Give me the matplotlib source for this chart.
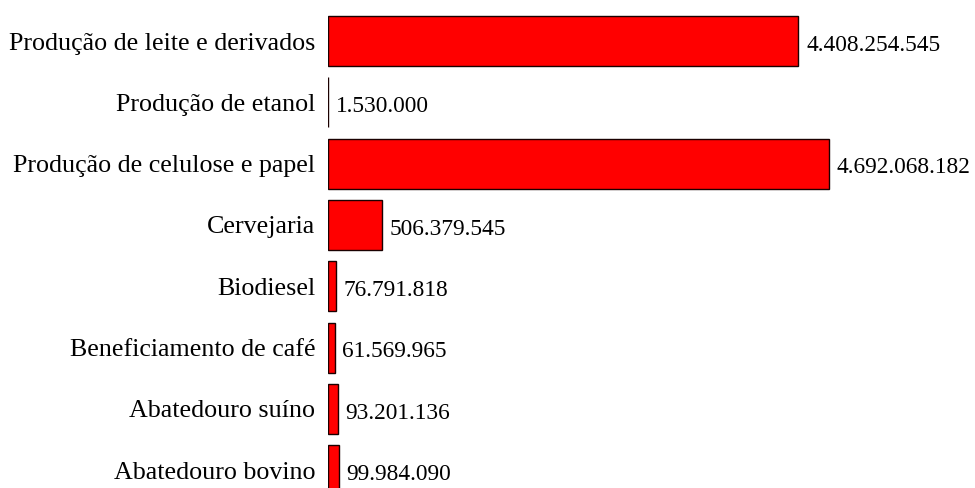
import matplotlib
matplotlib.use("Agg")
import matplotlib.pyplot as plt

# setores e volumes (ordem de cima para baixo)
setores = [
    "Produção de leite e derivados",
    "Produção de etanol",
    "Produção de celulose e papel",
    "Cervejaria",
    "Biodiesel",
    "Beneficiamento de café",
    "Abatedouro suíno",
    "Abatedouro bovino",
]
volumes = [4408254545, 1530000, 4692068182, 506379545,
           76791818, 61569965, 93201136, 99984090]


def fmt_br(v):
    # separador de milhar com ponto
    return f"{v:,}".replace(",", ".")


plt.rcParams["font.family"] = ["Liberation Serif", "DejaVu Serif"]

fig = plt.figure(figsize=(9.75, 4.88), dpi=100)
ax = fig.add_axes([0.3364, 0.0, 0.66, 1.0])

pos = list(range(len(setores)))
ax.barh(pos, volumes, height=0.815, color="#ff0000",
        edgecolor="#1a0000", linewidth=1.0)

for y, v in zip(pos, volumes):
    ax.annotate(fmt_br(v), xy=(v, y), xytext=(5.5, -3),
                textcoords="offset points", ha="left", va="center",
                fontsize=16.8)

ax.set_yticks(pos)
ax.set_yticklabels(setores, fontsize=18.7)
ax.tick_params(axis="y", length=0, pad=9)
ax.set_xticks([])
ax.set_xlim(0, 6.03e9)
ax.set_ylim(7.29, -0.669)
for s in ax.spines.values():
    s.set_visible(False)

fig.savefig("out.png", dpi=100)
